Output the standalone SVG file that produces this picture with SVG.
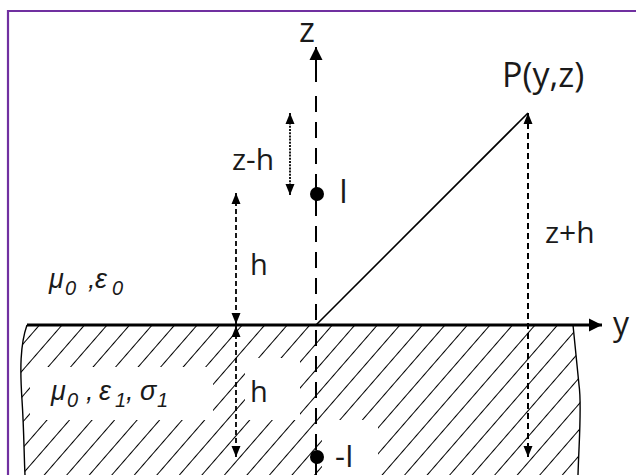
<svg xmlns="http://www.w3.org/2000/svg" width="636" height="475" viewBox="0 0 636 475">
  <style>
    .lbl { font-family: "Open Sans", "Liberation Sans", sans-serif; fill: #1a1a1a; }
    .gr { font-family: "Liberation Sans", Arial, sans-serif; font-style: italic; fill: #1a1a1a; font-size: 27px; }
    .sub { font-size: 20px; }
    .ln { stroke: #000; fill: none; }
  </style>
  <defs>
    <marker id="ah" markerUnits="userSpaceOnUse" markerWidth="12" markerHeight="10" refX="11" refY="4.5" orient="auto-start-reverse" viewBox="0 0 12 9">
      <path d="M0,0 L11,4.5 L0,9 Z" fill="#000"/>
    </marker>
    <marker id="ahBig" markerUnits="userSpaceOnUse" markerWidth="14" markerHeight="14" refX="13" refY="6.5" orient="auto" viewBox="0 0 14 13">
      <path d="M0,0 L13,6.5 L0,13 Z" fill="#000"/>
    </marker>
    <pattern id="hatch" patternUnits="userSpaceOnUse" width="17" height="40" patternTransform="translate(6,0) rotate(41)">
      <line x1="0" y1="-5" x2="0" y2="45" stroke="#000" stroke-width="2"/>
    </pattern>
  </defs>

  <!-- frame -->
  <g id="frame">
    <line x1="8" y1="11" x2="636" y2="11" stroke="#7030a0" stroke-width="2.2"/>
    <line x1="8" y1="10" x2="8" y2="475" stroke="#7030a0" stroke-width="2.2"/>
  </g>

  <!-- ground (hatched half-space) -->
  <g id="ground">
    <path d="M27,325 C20,345 20,370 22,400 C24,430 24,455 25,475 L578,475 C579,440 582,405 579,385 C577,365 575,345 573,325 Z" fill="url(#hatch)"/>
    <path d="M27,325 C20,345 20,370 22,400 C24,430 24,455 25,475" class="ln" stroke-width="1.4"/>
    <path d="M573,325 C575,345 577,365 579,385 C582,405 579,440 578,475" class="ln" stroke-width="1.4"/>
    <rect x="30" y="367" width="183" height="53" fill="#fff"/>
    <rect x="245" y="358" width="55" height="62" fill="#fff"/>
    <rect x="322" y="420" width="56" height="55" fill="#fff"/>
  </g>

  <!-- connectors -->
  <g id="connectors">
    <line x1="27" y1="325" x2="602" y2="325" class="ln" stroke-width="3" marker-end="url(#ahBig)"/>
    <line x1="316" y1="82" x2="316" y2="47" class="ln" stroke-width="2" marker-end="url(#ahBig)"/>
    <line x1="316" y1="96" x2="316" y2="475" class="ln" stroke-width="2" stroke-dasharray="16 10"/>
    <line x1="316" y1="325" x2="528" y2="113" class="ln" stroke-width="1.6"/>
    <line x1="290" y1="113" x2="290" y2="195" class="ln" stroke-width="1.8" stroke-dasharray="2 1.2" marker-start="url(#ah)" marker-end="url(#ah)"/>
    <line x1="236" y1="193" x2="236" y2="324" class="ln" stroke-width="1.8" stroke-dasharray="5 3" marker-start="url(#ah)" marker-end="url(#ah)"/>
    <line x1="236" y1="326" x2="236" y2="457" class="ln" stroke-width="1.8" stroke-dasharray="5 3" marker-start="url(#ah)" marker-end="url(#ah)"/>
    <line x1="528" y1="113" x2="528" y2="457" class="ln" stroke-width="2" stroke-dasharray="6 4" marker-start="url(#ah)" marker-end="url(#ah)"/>
  </g>

  <!-- nodes -->
  <g id="source-I">
    <circle cx="317" cy="194" r="7" fill="#000"/>
    <text class="lbl" x="339" y="203" font-size="32">I</text>
  </g>
  <g id="image-I">
    <circle cx="317" cy="457" r="7" fill="#000"/>
    <text class="lbl" x="335" y="467" font-size="31">-I</text>
  </g>
  <g id="point-P">
    <text class="lbl" x="502" y="87" font-size="34">P(y,z)</text>
  </g>
  <g id="axis-labels">
    <text class="lbl" x="299" y="42" font-size="34">z</text>
    <text class="lbl" x="613" y="335" font-size="32">y</text>
  </g>
  <g id="dimension-labels">
    <text class="lbl" x="232" y="170" font-size="30">z-h</text>
    <text class="lbl" x="250" y="275" font-size="29">h</text>
    <text class="lbl" x="250" y="402" font-size="29">h</text>
    <text class="lbl" x="545" y="243" font-size="30">z+h</text>
  </g>
  <g id="air-label">
    <text class="gr"><tspan x="49" y="288">μ</tspan><tspan class="sub" x="65" y="295">0</tspan><tspan x="88" y="288">,</tspan><tspan x="95" y="288">ε</tspan><tspan class="sub" x="112" y="295">0</tspan></text>
  </g>
  <g id="soil-label">
    <text class="gr"><tspan x="51" y="400">μ</tspan><tspan class="sub" x="67" y="407">0</tspan><tspan x="86" y="400">,</tspan><tspan x="99" y="400">ε</tspan><tspan class="sub" x="115" y="407">1</tspan><tspan x="126" y="400">,</tspan><tspan x="140" y="400">σ</tspan><tspan class="sub" x="157" y="407">1</tspan></text>
  </g>
</svg>
